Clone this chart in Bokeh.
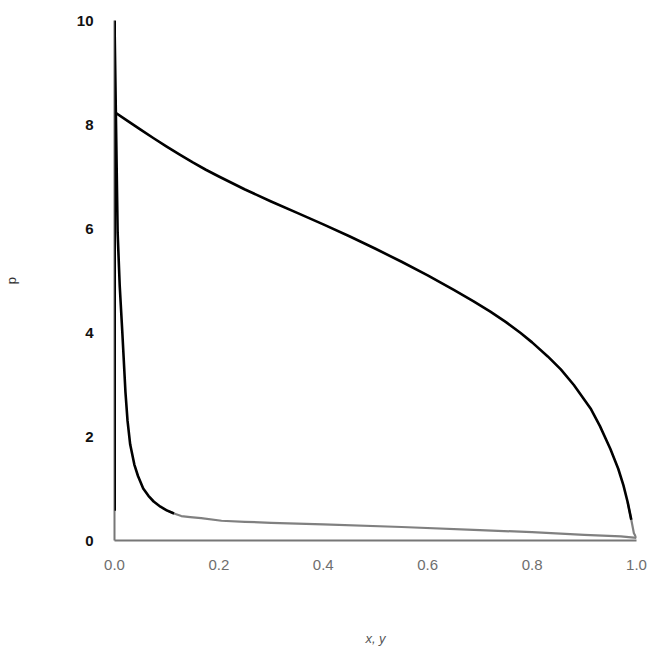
from bokeh.plotting import figure
from bokeh.models import Range1d, FixedTicker, Arrow
from bokeh.embed import file_html
from bokeh.resources import INLINE

# ---- data ----
x_ticks = [0.0, 0.2, 0.4, 0.6, 0.8, 1.0]
x_tick_labels = ["0.0", "0.2", "0.4", "0.6", "0.8", "1.0"]
y_ticks = [0, 2, 4, 6, 8, 10]
y_tick_labels = ["0", "2", "4", "6", "8", "10"]

# upper curve (p vs y)
dew_x = [0.0, 0.025, 0.05, 0.075, 0.10, 0.125, 0.15, 0.175, 0.20, 0.25, 0.30, 0.35, 0.40, 0.45,
         0.50, 0.55, 0.60, 0.65, 0.688, 0.72, 0.75, 0.778, 0.80, 0.83, 0.855, 0.88, 0.912, 0.93,
         0.95, 0.965, 0.975, 0.983, 0.99, 0.995, 1.0]
dew_p = [8.24, 8.07, 7.90, 7.735, 7.575, 7.42, 7.27, 7.13, 7.00, 6.75, 6.52, 6.30, 6.08, 5.85,
         5.61, 5.36, 5.10, 4.82, 4.60, 4.40, 4.20, 3.99, 3.81, 3.54, 3.29, 2.99, 2.54, 2.20,
         1.76, 1.38, 1.06, 0.74, 0.40, 0.14, 0.05]

# lower curve (p vs x)
bub_x = [0.0, 0.006, 0.010, 0.015, 0.021, 0.025, 0.030, 0.038, 0.045, 0.055, 0.065, 0.075, 0.088,
         0.10, 0.114, 0.128, 0.145, 0.166, 0.205, 0.25, 0.30, 0.40, 0.55, 0.70, 0.80, 0.90, 0.97, 1.0]
bub_p = [10.0, 5.92, 4.90, 4.00, 2.85, 2.30, 1.85, 1.46, 1.24, 1.00, 0.86, 0.75, 0.65,
         0.58, 0.52, 0.47, 0.45, 0.43, 0.38, 0.36, 0.34, 0.31, 0.26, 0.20, 0.16, 0.11, 0.08, 0.05]

# vertical segment drawn over the y axis
seg_x = [0.0, 0.0]
seg_p = [0.57, 10.0]

# below this level the scanned lines look grey
grey_level = 0.55

BLACK = "#000000"
GREY = "#808080"

p = figure(width=649, height=648, output_backend="svg", toolbar_location=None,
           x_range=Range1d(0, 1), y_range=Range1d(0, 10),
           min_border_left=113, min_border_right=13, min_border_top=20, min_border_bottom=106)
p.background_fill_color = "white"
p.border_fill_color = "white"
p.outline_line_color = None
p.xgrid.visible = False
p.ygrid.visible = False


def split(xs, ys):
    n = len(xs)
    cut = n
    for i in range(n):
        if ys[i] < grey_level:
            cut = i
            break
    blk_x = xs[:min(cut + 1, n)]
    blk_y = ys[:min(cut + 1, n)]
    gr_x = xs[max(cut - 1, 0):] if cut < n else []
    gr_y = ys[max(cut - 1, 0):] if cut < n else []
    return blk_x, blk_y, gr_x, gr_y


for xs, ys in [(dew_x, dew_p), (bub_x, bub_p)]:
    bx, by, gx, gy = split(xs, ys)
    if gx:
        p.line(gx, gy, line_color=GREY, line_width=2.2, line_join="round")
    p.line(bx, by, line_color=BLACK, line_width=2.6, line_join="round")

# axes
for ax in (p.xaxis, p.yaxis):
    ax.axis_line_color = "#777777"
    ax.axis_line_width = 2
    ax.major_tick_line_color = None
    ax.minor_tick_line_color = None

# black vertical segment over the y axis (annotation so it is not clipped)
p.add_layout(Arrow(end=None, x_start=seg_x[0], y_start=seg_p[0], x_end=seg_x[1], y_end=seg_p[1],
                   line_color=BLACK, line_width=3, level="overlay"))

p.xaxis.ticker = FixedTicker(ticks=x_ticks)
p.xaxis.major_label_overrides = {t: l for t, l in zip(x_ticks, x_tick_labels)}
p.xaxis.major_label_text_font = "Liberation Sans"
p.xaxis.major_label_text_font_size = "15px"
p.xaxis.major_label_text_color = "#6e6e6e"
p.xaxis.major_label_standoff = 13
p.xaxis.axis_label = "x, y"
p.xaxis.axis_label_text_font = "Liberation Sans"
p.xaxis.axis_label_text_font_style = "italic"
p.xaxis.axis_label_text_font_size = "13px"
p.xaxis.axis_label_text_color = "#555555"
p.xaxis.axis_label_standoff = 58

p.yaxis.ticker = FixedTicker(ticks=y_ticks)
p.yaxis.major_label_overrides = {t: l for t, l in zip(y_ticks, y_tick_labels)}
p.yaxis.major_label_text_font = "Liberation Sans"
p.yaxis.major_label_text_font_size = "15px"
p.yaxis.major_label_text_font_style = "bold"
p.yaxis.major_label_text_color = "#111111"
p.yaxis.major_label_standoff = 15
p.yaxis.axis_label = "p"
p.yaxis.axis_label_text_font = "Liberation Sans"
p.yaxis.axis_label_text_font_style = "normal"
p.yaxis.axis_label_text_font_size = "13px"
p.yaxis.axis_label_text_color = "#333333"
p.yaxis.axis_label_standoff = 55

open("out.html", "w").write(file_html(p, INLINE))
